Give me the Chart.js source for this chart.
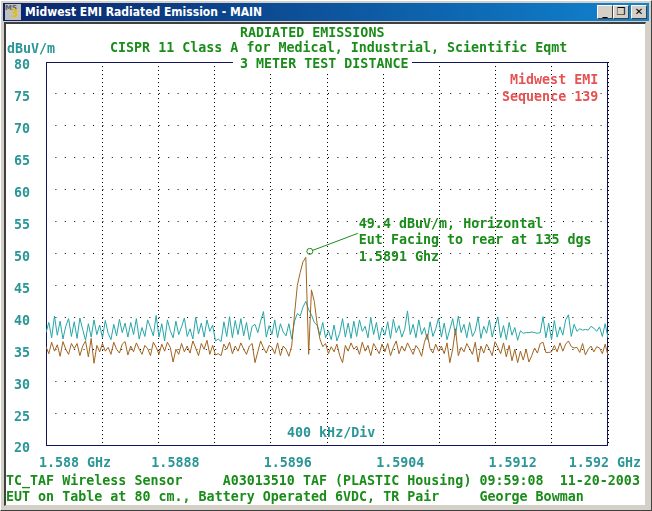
<!DOCTYPE html>
<html>
<head>
<meta charset="utf-8">
<title>Midwest EMI Radiated Emission - MAIN</title>
<script src="https://cdn.jsdelivr.net/npm/chart.js@4.4.1/dist/chart.umd.min.js"></script>
<style>
  html, body { margin: 0; padding: 0; }
  body { width: 652px; height: 511px; background: #d4d0c8; position: relative; overflow: hidden; }
  .win { position: absolute; left: 0; top: 0; width: 650px; height: 509px;
         border-top: 1px solid #fff; border-left: 1px solid #fff;
         border-right: 1px solid #404040; border-bottom: 1px solid #404040; }
  .titlebar { position: absolute; left: 3px; top: 3px; width: 646px; height: 18px;
              background: linear-gradient(to right, #0a246a, #1084d0); }
  .titletext { position: absolute; left: 22px; top: 2px; color: #fff;
               font: bold 12px "DejaVu Sans Condensed", "DejaVu Sans", sans-serif; white-space: pre; }
  .icon { position: absolute; left: 2px; top: 1px; width: 16px; height: 16px; background: #c0c0c0;
          font: bold 7px "DejaVu Sans", sans-serif; line-height: 8px; color: #606060; }
  .icon b { position: absolute; left: 6px; top: 6px; font-size: 11px; color: #e0c000; }
  .btn { position: absolute; top: 2px; width: 14px; height: 12px; background: #d4d0c8;
         border-top: 1px solid #fff; border-left: 1px solid #fff;
         border-right: 1px solid #404040; border-bottom: 1px solid #404040;
         font: bold 10px "DejaVu Sans", sans-serif; line-height: 12px; text-align: center; color: #000; }
  .client { position: absolute; left: 4px; top: 22px; width: 642px; height: 484px; background: #fff;
            border-top: 2px solid #404040; border-left: 2px solid #404040;
            border-right: 1px solid #d4d0c8; border-bottom: 1px solid #d4d0c8; box-sizing: border-box; }
  canvas { position: absolute; left: 0; top: 0; }
  .t { position: absolute; font: bold 13.33px "DejaVu Sans Mono", monospace; line-height: 16px; white-space: pre; }
  .green { color: #1a8c1a; }
  .teal { color: #2a9696; }
  .red { color: #e65252; }
</style>
</head>
<body>
<div class="win"></div>
<div class="titlebar">
  <div class="icon">MS<b>3</b></div>
  <div class="titletext">Midwest EMI Radiated Emission - MAIN</div>
  <div class="btn" style="left:594px">_</div>
  <div class="btn" style="left:610px">&#10064;</div>
  <div class="btn" style="left:628px">&#10005;</div>
</div>
<div class="client"></div>

<canvas id="emiChart" width="652" height="511"></canvas>

<div class="t green" style="left:240px; top:25px">RADIATED EMISSIONS</div>
<div class="t teal" style="left:7px; top:41px">dBuV/m</div>
<div class="t green" style="left:110px; top:40px">CISPR 11 Class A for Medical, Industrial, Scientific Eqmt</div>
<div class="t green" style="left:233px; top:56px; background:#fff; padding:0 3px 0 7px">3 METER TEST DISTANCE</div>
<div class="t red" style="left:510px; top:72px">Midwest EMI</div>
<div class="t red" style="left:502px; top:89px">Sequence 139</div>
<div class="t teal" style="left:287px; top:425px">400 kHz/Div</div>
<div class="t green" style="left:6px; top:473px">TC_TAF Wireless Sensor     A03013510 TAF (PLASTIC Housing) 09:59:08  11-20-2003</div>
<div class="t green" style="left:6px; top:489px">EUT on Table at 80 cm., Battery Operated 6VDC, TR Pair     George Bowman</div>

<script>
// sweep 1.588 - 1.592 GHz (dBuV/m)
const fStart = 1.588;
const fStop = 1.592;

const horizontalTrace = [
  35.4, 34.3, 36.1, 34.7, 35.7, 33.9, 36.2, 35.0, 34.2, 35.9,
  35.1, 35.9, 34.0, 35.5, 36.3, 33.8, 36.7, 32.8, 35.6, 34.6,
  35.9, 34.7, 35.3, 34.2, 36.1, 35.0, 34.4, 35.8, 36.2, 34.1,
  35.5, 34.6, 36.0, 35.0, 34.2, 35.6, 35.1, 34.0, 36.1, 35.3,
  34.2, 35.8, 34.7, 36.1, 35.3, 33.0, 35.0, 34.2, 35.9, 34.6,
  35.5, 34.4, 36.3, 35.2, 34.0, 35.9, 35.0, 36.4, 34.2, 35.6,
  34.1, 34.3, 34.0, 35.8, 35.0, 36.1, 34.3, 35.5, 34.7, 36.0,
  35.0, 34.2, 35.5, 35.9, 32.9, 34.6, 36.3, 35.2, 34.4, 35.6,
  35.3, 34.3, 36.0, 34.0, 35.5, 35.0, 33.9, 35.5, 40.5, 45.0,
  47.0, 48.7, 49.4, 34.2, 44.3, 42.5, 39.0, 36.6, 35.4, 35.9,
  34.3, 35.4, 34.6, 35.8, 34.0, 32.9, 35.6, 34.7, 36.0, 35.0,
  35.5, 34.2, 36.1, 34.7, 35.6, 34.0, 35.9, 35.1, 34.3, 35.8,
  34.6, 35.9, 34.0, 35.3, 36.3, 34.3, 35.5, 34.7, 36.0, 35.1,
  34.2, 35.6, 35.0, 33.9, 36.1, 37.4, 35.1, 34.4, 35.8, 34.7,
  35.5, 34.3, 36.0, 32.9, 35.0, 38.2, 34.0, 35.3, 34.6, 35.9,
  35.1, 34.2, 36.1, 33.0, 35.5, 34.4, 35.8, 35.0, 34.0, 36.2,
  35.3, 34.3, 36.0, 33.8, 35.6, 33.2, 35.0, 32.9, 34.7, 33.3,
  35.0, 33.0, 34.0, 35.2, 34.4, 35.9, 36.1, 34.5, 34.5, 34.6,
  35.6, 34.6, 36.0, 34.7, 35.8, 36.3, 35.4, 35.2, 35.3, 34.5,
  35.9, 34.1, 35.0, 35.5, 34.6, 35.4, 35.2, 34.3, 35.8, 34.0
];

const verticalTrace = [
  37.6, 39.2, 36.8, 40.2, 37.2, 39.4, 36.6, 38.6, 39.8, 37.0,
  39.3, 36.7, 39.9, 38.1, 36.4, 39.0, 36.9, 39.6, 37.3, 38.8,
  36.8, 39.5, 37.5, 36.5, 38.9, 37.1, 39.7, 37.6, 39.1, 36.9,
  39.2, 37.3, 39.8, 36.6, 38.4, 37.0, 39.6, 38.4, 37.1, 40.3,
  36.9, 39.0, 36.3, 39.6, 37.9, 36.8, 39.4, 37.3, 38.5, 39.9,
  37.0, 38.2, 36.6, 40.0, 37.4, 39.1, 36.9, 39.6, 37.8, 38.8,
  36.3, 36.6, 36.2, 39.3, 37.0, 40.1, 36.8, 39.5, 37.3, 39.8,
  37.1, 39.2, 36.5, 38.6, 38.9, 37.6, 39.4, 40.9, 36.9, 38.7,
  37.3, 39.6, 36.8, 39.0, 37.7, 37.1, 39.0, 36.6, 39.4, 40.6,
  40.2, 41.6, 42.5, 41.2, 40.4, 39.2, 38.8, 37.2, 39.2, 36.8,
  37.9, 36.5, 38.8, 36.3, 37.5, 39.8, 36.9, 39.1, 36.7, 39.4,
  37.0, 39.6, 37.8, 38.6, 36.8, 40.0, 37.3, 39.2, 36.5, 38.4,
  37.2, 39.3, 36.7, 39.7, 37.6, 38.7, 36.9, 38.1, 41.0, 37.3,
  38.9, 36.8, 39.6, 37.3, 38.4, 36.5, 39.3, 37.0, 38.2, 39.9,
  36.9, 39.1, 36.5, 38.1, 39.8, 37.2, 40.2, 37.6, 38.9, 36.8,
  39.2, 37.0, 37.9, 40.1, 36.7, 38.6, 37.5, 39.6, 36.9, 38.7,
  40.0, 36.8, 38.7, 36.5, 39.2, 37.2, 38.4, 36.4, 37.9, 37.5,
  37.6, 37.6, 37.7, 37.6, 37.5, 37.6, 40.1, 36.8, 39.1, 36.5,
  39.5, 36.9, 38.5, 37.2, 39.6, 40.4, 37.0, 38.9, 37.8, 38.2,
  38.0, 38.1, 38.0, 38.6, 38.3, 37.8, 38.5, 37.0, 39.0, 36.8
];

// one dotted line every 400 kHz, labels on every other one
const gridFreqs = [1.588, 1.5884, 1.5888, 1.5892, 1.5896, 1.59, 1.5904, 1.5908, 1.5912, 1.5916, 1.592];
const freqLabels = ['1.588 GHz', '', '1.5888', '', '1.5896', '', '1.5904', '', '1.5912', '', '1.592 GHz'];

const markerLines = ['49.4 dBuV/m, Horizontal', 'Eut Facing to rear at 135 dgs', '1.5891 Ghz'];

const MONO = '"DejaVu Sans Mono", monospace';
const GREEN = '#1a8c1a';
const TEAL = '#2a9696';

function toPoints(trace) {
  const step = (fStop - fStart) / (trace.length - 1);
  return trace.map((v, i) => ({ x: fStart + i * step, y: v }));
}

const frame = {
  id: 'frame',
  beforeDatasetsDraw(chart) {
    const { ctx, chartArea: a } = chart;
    ctx.save();
    ctx.strokeStyle = '#14145a';
    ctx.lineWidth = 1;
    ctx.strokeRect(Math.round(a.left) + 0.5, Math.round(a.top) + 0.5,
                   Math.round(a.right - a.left) - 1, Math.round(a.bottom - a.top));
    ctx.restore();
  }
};

const peakMarker = {
  id: 'peakMarker',
  afterDatasetsDraw(chart) {
    const { ctx } = chart;
    const peak = Math.max(...horizontalTrace);
    const pt = chart.getDatasetMeta(0).data[horizontalTrace.indexOf(peak)];
    const cx = pt.x + 4, cy = pt.y - 6;
    ctx.save();
    ctx.strokeStyle = GREEN;
    ctx.lineWidth = 1;
    ctx.beginPath();
    ctx.arc(cx, cy, 3, 0, Math.PI * 2);
    ctx.stroke();
    ctx.beginPath();
    ctx.moveTo(cx + 3, cy - 1);
    ctx.lineTo(cx + 48, cy - 18);
    ctx.stroke();
    ctx.fillStyle = GREEN;
    ctx.font = 'bold 13.33px ' + MONO;
    ctx.textBaseline = 'middle';
    markerLines.forEach((line, k) => ctx.fillText(line, cx + 49, cy - 27 + k * 16.5));
    ctx.restore();
  }
};

new Chart(document.getElementById('emiChart'), {
  type: 'line',
  data: {
    datasets: [
      {
        label: 'Horizontal',
        data: toPoints(horizontalTrace),
        borderColor: '#a0641e',
        borderWidth: 1,
        pointRadius: 0,
        tension: 0
      },
      {
        label: 'Vertical',
        data: toPoints(verticalTrace),
        borderColor: '#26a6a6',
        borderWidth: 1,
        pointRadius: 0,
        tension: 0
      }
    ]
  },
  options: {
    responsive: false,
    animation: false,
    devicePixelRatio: 1,
    layout: { padding: { left: 6, top: 62, right: 44, bottom: 0 } },
    plugins: {
      legend: { display: false },
      tooltip: { enabled: false }
    },
    scales: {
      x: {
        type: 'linear',
        min: fStart,
        max: fStop,
        afterBuildTicks: s => { s.ticks = gridFreqs.map(v => ({ value: v })); },
        afterFit: s => { s.height = 66; s.paddingLeft = 0; s.paddingRight = 0; },
        grid: { color: '#000', lineWidth: 1, drawTicks: false },
        border: { display: false, dash: [1, 3] },
        ticks: {
          autoSkip: false,
          maxRotation: 0,
          minRotation: 0,
          padding: 11,
          labelOffset: 17,
          color: TEAL,
          font: { family: MONO, size: 13.33, weight: 'bold' },
          callback: (v, i) => {
            const lbl = freqLabels[i];
            if (i === 0) return '   ' + lbl;
            if (i === freqLabels.length - 1) return lbl + '     ';
            return lbl;
          }
        }
      },
      y: {
        min: 20,
        max: 80,
        afterFit: s => { s.width = 40; s.paddingTop = 0; s.paddingBottom = 0; },
        grid: { color: '#000', lineWidth: 1, drawTicks: false },
        border: { display: false, dash: [1, 8.4] },
        ticks: {
          stepSize: 5,
          padding: 16,
          labelOffset: 4,
          color: TEAL,
          font: { family: MONO, size: 13.33, weight: 'bold' }
        }
      }
    }
  },
  plugins: [frame, peakMarker]
});
</script>
</body>
</html>
